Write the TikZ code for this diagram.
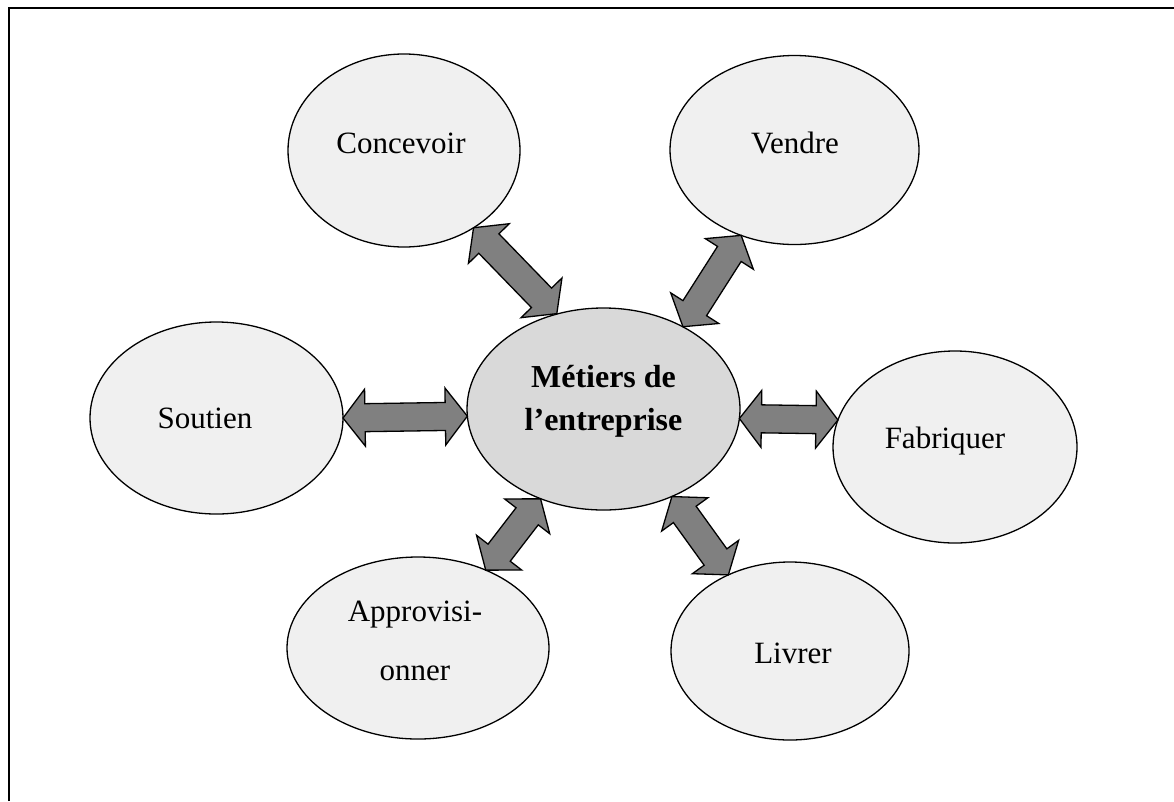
\documentclass[tikz,border=0pt]{standalone}
\usepackage{fontspec}
\setmainfont{Liberation Serif}
\usetikzlibrary{shapes.geometric,calc}
\tikzset{
  ell/.style={ellipse, draw, line width=1.3pt, fill=black!6, inner sep=0pt, outer sep=0pt},
  core/.style={ell, fill=black!15},
  lbl/.style={font=\fontsize{31}{59}\selectfont, align=center, inner sep=0pt},
  corelbl/.style={font=\fontsize{32}{43}\selectfont\bfseries, align=center, inner sep=0pt},
  arrowbody/.style={draw, fill=black!50, line width=1.3pt, line join=miter},
  framestyle/.style={line width=2pt}
}
\newcommand\dblarrow[2]{%
  \path let \p1=(#1), \p2=(#2),
    \n1={atan2(\y2-\y1,\x2-\x1)}, \n2={veclen(\x2-\x1,\y2-\y1)} in
    \pgfextra{\pgfmathsetmacro\myang{\n1}\pgfmathsetmacro\mylen{\n2}%
      \xdef\arrang{\myang}\xdef\arrlen{\mylen pt}};
  \begin{scope}[shift={(#1)}, rotate=\arrang]
    \draw[arrowbody] (0pt,0pt) -- (22pt,28.5pt) -- (22pt,14pt)
      -- ({\arrlen-22pt},14pt) -- ({\arrlen-22pt},28.5pt) -- ({\arrlen},0pt)
      -- ({\arrlen-22pt},-28.5pt) -- ({\arrlen-22pt},-14pt)
      -- (22pt,-14pt) -- (22pt,-28.5pt) -- cycle;
  \end{scope}}
\begin{document}
\begin{tikzpicture}[x=1pt,y=-1pt]
  \useasboundingbox (0,0) rectangle (1174,801);
  \fill[white] (0,0) rectangle (1174,801);
  \draw[framestyle] (9,801) -- (9,8) -- (1174,8);

  \node[ell, minimum width=232pt, minimum height=193pt] (conc) at (404,150.5) {};
  \node[ell, minimum width=249pt, minimum height=189pt] (vend) at (794.5,150) {};
  \node[ell, minimum width=253pt, minimum height=192pt] (sout) at (216.5,418) {};
  \node[core, minimum width=273pt, minimum height=202pt] (met) at (603.5,409) {};
  \node[ell, minimum width=244pt, minimum height=192pt] (fabr) at (955,447) {};
  \node[ell, minimum width=262pt, minimum height=182pt] (appr) at (418,648) {};
  \node[ell, minimum width=238pt, minimum height=178pt] (livr) at (790,651) {};

  \node[lbl] (conc-t) at (401,143) {Concevoir};
  \node[lbl] (vend-t) at (795,143) {Vendre};
  \node[lbl] (sout-t) at (205,418) {Soutien};
  \node[corelbl] (met-t) at (603.5,401) {Métiers de\\l’entreprise};
  \node[lbl] (fabr-t) at (945,441) {Fabriquer};
  \node[lbl] (appr-t) at (415,641) {Approvisi-\\onner};
  \node[lbl] (livr-t) at (793,653) {Livrer};

  \dblarrow{conc.-48.3}{met.116.6}
  \dblarrow{vend.-122.7}{met.46.2}
  \dblarrow{sout.0}{met.183.8}
  \dblarrow{met.-4.6}{fabr.167}
  \dblarrow{appr.49}{met.235.8}
  \dblarrow{livr.129.2}{met.-52.9}
\end{tikzpicture}
\end{document}
